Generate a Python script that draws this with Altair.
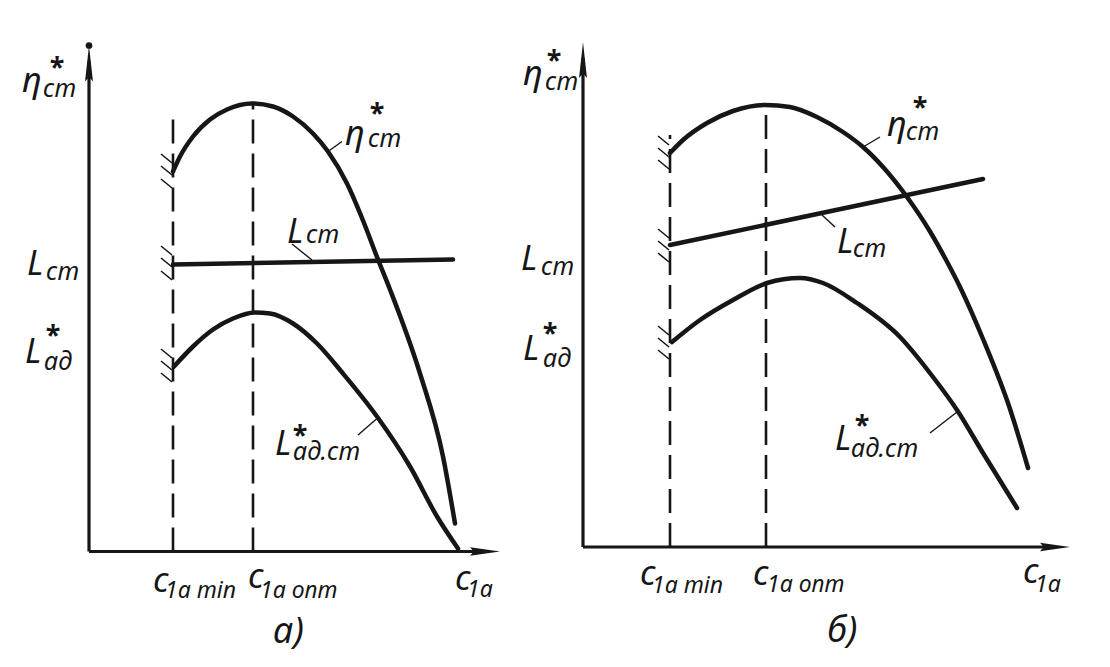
import altair as alt
import pandas as pd

INK = "#161616"
FONT = "Noto Sans"

# ---------------- panel а) (units: axis origin of the panel = 0,0) ----------------
A_ETA_X = [8.4, 9.1, 10.4, 12.1, 13.8, 16.3, 18.4, 20.4, 22.4, 23.9, 25.8, 27.4, 28.9, 30.1, 33.1, 35.4, 36.6]
A_ETA_Y = [38.0, 39.5, 41.5, 43.2, 44.2, 44.8, 44.5, 43.5, 41.8, 40.0, 36.8, 33.1, 29.2, 26.2, 17.8, 9.5, 2.8]
A_LST_X = [8.4, 36.4]
A_LST_Y = [28.7, 29.2]
A_LAD_X = [8.5, 10.4, 12.4, 14.4, 16.6, 18.1, 20.4, 22.8, 25.4, 28.8, 32.1, 34.8, 36.9]
A_LAD_Y = [18.5, 20.5, 22.2, 23.3, 23.9, 23.8, 22.8, 20.8, 17.8, 13.5, 8.5, 3.5, 0.3]
A_VLINE_X = [8.4, 16.4]
A_VLINE_TOP = [43.6, 44.9]
A_HATCH_Y = [38.85, 37.65, 36.35, 29.65, 28.45, 27.15, 19.35, 18.15, 16.95]
A_AXIS_TIP = [41.1, 50.6]  # x-axis tip, y-axis tip
A_LEADERS = [[23.9, 40.0, 25.3, 41.0], [22.3, 29.15, 20.3, 30.75], [28.8, 13.3, 26.9, 11.65]]
A_MAIN_TEXT = ["η", "L", "L", "η", "L", "L", "c", "c", "c"]
A_MAIN_X = [-6.7, -6.2, -6.4, 25.6, 19.8, 18.6, 6.4, 15.9, 36.6]
A_MAIN_Y = [45.95, 27.65, 18.85, 40.65, 30.85, 9.65, -4.05, -3.65, -3.85]
A_SUB_TEXT = ["ст", "ст", "ад", "ст", "ст", "ад.ст"]
A_SUB_X = [-4.6, -4.3, -4.5, 27.9, 21.7, 20.4]
A_SUB_Y = [45.45, 27.15, 18.15, 40.45, 30.85, 9.15]
A_XSUB_TEXT = ["1a min", "1a опт", "1a"]
A_XSUB_X = [7.6, 17.1, 37.8]
A_XSUB_Y = [-4.65, -4.65, -4.55]
A_STAR_X = [-3.2, -3.6, 28.8, 21.1]
A_STAR_Y = [47.45, 20.65, 42.85, 10.65]
A_CAPTION = ["а)", 18.4, -9.15]

# ---------------- panel б) ----------------
B_ETA_X = [8.7, 10.0, 12.4, 15.0, 18.2, 20.7, 23.4, 26.0, 28.0, 30.0, 32.4, 34.7, 36.2, 37.7, 40.0, 42.7, 44.5]
B_ETA_Y = [39.4, 40.7, 42.4, 43.6, 44.2, 44.0, 43.0, 41.5, 40.0, 38.0, 35.0, 31.55, 28.9, 26.0, 20.8, 13.8, 7.9]
B_LST_X = [8.7, 40.0]
B_LST_Y = [30.2, 36.8]
B_LAD_X = [8.9, 11.7, 15.0, 18.4, 21.7, 24.0, 27.4, 31.7, 35.0, 37.4, 40.0, 43.4]
B_LAD_Y = [20.5, 22.7, 24.7, 26.4, 26.9, 26.4, 24.4, 21.0, 17.0, 13.7, 9.4, 3.9]
B_VLINE_X = [8.7, 18.3]
B_VLINE_TOP = [41.2, 44.2]
B_HATCH_Y = [40.2, 39.0, 37.8, 30.9, 29.7, 28.5, 21.2, 20.0, 18.8]
B_AXIS_TIP = [48.7, 50.5]
B_LEADERS = [[28.0, 40.0, 29.7, 41.0], [23.9, 33.2, 25.2, 32.0], [37.4, 13.5, 34.7, 11.4]]
B_MAIN_TEXT = ["η", "L", "L", "η", "L", "L", "c", "c", "c"]
B_MAIN_X = [-6.0, -6.2, -6.0, 30.4, 25.4, 25.2, 5.7, 17.0, 44.0]
B_MAIN_Y = [46.2, 27.7, 18.7, 41.1, 29.4, 9.7, -3.8, -3.8, -3.6]
B_SUB_TEXT = ["ст", "ст", "ад", "ст", "ст", "ад.ст"]
B_SUB_X = [-3.8, -4.2, -4.0, 32.3, 27.0, 26.8]
B_SUB_Y = [45.7, 27.2, 18.0, 40.7, 29.0, 9.0]
B_XSUB_TEXT = ["1a min", "1a опт", "1a"]
B_XSUB_X = [6.9, 18.4, 45.2]
B_XSUB_Y = [-4.6, -4.5, -4.5]
B_STAR_X = [-2.9, -3.3, 33.7, 27.9]
B_STAR_Y = [47.7, 20.4, 43.0, 11.2]
B_CAPTION = ["б)", 24.4, -9.5]

# where each panel's origin sits in the shared drawing frame
PANEL_OFFSET = {"a": (0.0, 0.0), "b": (49.4, 0.45)}

W, H = 1090, 648
XDOM = [-8.1, 100.9]
YDOM = [-10.45, 54.35]

ARROW_UP = "M0,0L0.22,2L0,1.75L-0.22,2Z"
ARROW_RIGHT = "M0,0L-2,-0.28L-1.75,0L-2,0.28Z"

PANELS = {
    "a": dict(eta=(A_ETA_X, A_ETA_Y), lst=(A_LST_X, A_LST_Y), lad=(A_LAD_X, A_LAD_Y),
              vx=A_VLINE_X, vtop=A_VLINE_TOP, hatch=A_HATCH_Y, tip=A_AXIS_TIP, lead=A_LEADERS,
              main=(A_MAIN_TEXT, A_MAIN_X, A_MAIN_Y), sub=(A_SUB_TEXT, A_SUB_X, A_SUB_Y),
              xsub=(A_XSUB_TEXT, A_XSUB_X, A_XSUB_Y),
              star=(A_STAR_X, A_STAR_Y), cap=A_CAPTION),
    "b": dict(eta=(B_ETA_X, B_ETA_Y), lst=(B_LST_X, B_LST_Y), lad=(B_LAD_X, B_LAD_Y),
              vx=B_VLINE_X, vtop=B_VLINE_TOP, hatch=B_HATCH_Y, tip=B_AXIS_TIP, lead=B_LEADERS,
              main=(B_MAIN_TEXT, B_MAIN_X, B_MAIN_Y), sub=(B_SUB_TEXT, B_SUB_X, B_SUB_Y),
              xsub=(B_XSUB_TEXT, B_XSUB_X, B_XSUB_Y),
              star=(B_STAR_X, B_STAR_Y), cap=B_CAPTION),
}

curves, segs, arrows_up, arrows_r, dots, texts = [], [], [], [], [], []
for p, d in PANELS.items():
    ox, oy = PANEL_OFFSET[p]
    for s in ("eta", "lst", "lad"):
        xs, ys = d[s]
        for i, (a, b) in enumerate(zip(xs, ys)):
            curves.append({"s": p + s, "i": i, "x": a + ox, "y": b + oy})
    tx, ty = d["tip"]
    segs.append({"k": "axis", "x": ox, "y": oy, "x2": ox, "y2": ty - 1.6 + oy})
    segs.append({"k": "axis", "x": ox, "y": oy, "x2": tx - 1.6 + ox, "y2": oy})
    arrows_up.append({"x": ox, "y": ty + oy})
    arrows_r.append({"x": tx + ox, "y": oy})
    if p == "a":
        dots.append({"x": ox, "y": ty + oy})
    for vx, vt in zip(d["vx"], d["vtop"]):
        segs.append({"k": "dash", "x": vx + ox, "y": oy, "x2": vx + ox, "y2": vt + oy})
    hx = d["vx"][0]
    for hy in d["hatch"]:
        segs.append({"k": "hatch", "x": hx - 1.2 + ox, "y": hy + 0.9 + oy,
                     "x2": hx - 0.1 + ox, "y2": hy + oy})
    for x1, y1, x2, y2 in d["lead"]:
        segs.append({"k": "lead", "x": x1 + ox, "y": y1 + oy, "x2": x2 + ox, "y2": y2 + oy})
    for kind in ("main", "sub", "xsub"):
        for t, x, y in zip(*d[kind]):
            texts.append({"k": kind, "t": t, "x": x + ox, "y": y + oy})
    for x, y in zip(*d["star"]):
        texts.append({"k": "star", "t": "*", "x": x + ox, "y": y + oy})
    c = d["cap"]
    texts.append({"k": "cap", "t": c[0], "x": c[1] + ox, "y": c[2] + oy})

curves_df = pd.DataFrame(curves)
segs_df = pd.DataFrame(segs)
texts_df = pd.DataFrame(texts)

X = alt.X("x:Q", scale=alt.Scale(domain=XDOM, nice=False, zero=False), axis=None)
Y = alt.Y("y:Q", scale=alt.Scale(domain=YDOM, nice=False, zero=False), axis=None)

base_seg = alt.Chart(segs_df).encode(x=X, y=Y, x2="x2:Q", y2="y2:Q")
dashed = base_seg.transform_filter(alt.datum.k == "dash").mark_rule(
    color=INK, strokeWidth=2.6, strokeDash=[24, 10])
axes = base_seg.transform_filter(alt.datum.k == "axis").mark_rule(color=INK, strokeWidth=3.2)
hatch = base_seg.transform_filter(alt.datum.k == "hatch").mark_rule(color=INK, strokeWidth=1.6)
lead = base_seg.transform_filter(alt.datum.k == "lead").mark_rule(color=INK, strokeWidth=1.4)

lines = alt.Chart(curves_df).mark_line(
    color=INK, strokeWidth=4.5, interpolate="monotone", strokeCap="round", strokeJoin="round"
).encode(x=X, y=Y, detail="s:N", order="i:Q")

up = alt.Chart(pd.DataFrame(arrows_up)).mark_point(
    shape=ARROW_UP, size=1300, filled=True, color=INK, opacity=1).encode(x=X, y=Y)
right = alt.Chart(pd.DataFrame(arrows_r)).mark_point(
    shape=ARROW_RIGHT, size=900, filled=True, color=INK, opacity=1).encode(x=X, y=Y)
dot = alt.Chart(pd.DataFrame(dots)).mark_point(
    shape="circle", size=45, filled=True, color=INK, opacity=1).encode(x=X, y=Y)

base_txt = alt.Chart(texts_df).encode(x=X, y=Y, text="t:N")
main = base_txt.transform_filter(alt.datum.k == "main").mark_text(
    font=FONT, fontStyle="italic", fontSize=34, align="left", baseline="alphabetic", color=INK)
sub = base_txt.transform_filter(alt.datum.k == "sub").mark_text(
    font=FONT, fontStyle="italic", fontSize=25, align="left", baseline="alphabetic", color=INK)
xsub = base_txt.transform_filter(alt.datum.k == "xsub").mark_text(
    font=FONT, fontStyle="italic", fontSize=23, align="left", baseline="alphabetic", color=INK)
star = base_txt.transform_filter(alt.datum.k == "star").mark_text(
    font=FONT, fontSize=27, fontWeight="bold", align="center", baseline="alphabetic", color=INK)
cap = base_txt.transform_filter(alt.datum.k == "cap").mark_text(
    font=FONT, fontStyle="italic", fontSize=36, align="left", baseline="alphabetic", color=INK)

chart = alt.layer(dashed, hatch, axes, up, right, dot, lines, lead, main, sub, xsub, star, cap).properties(
    width=W, height=H, padding=0, autosize=alt.AutoSizeParams(type="none")
).configure_view(stroke=None)

chart.save("out.html", embed_options={"renderer": "svg", "actions": False})
